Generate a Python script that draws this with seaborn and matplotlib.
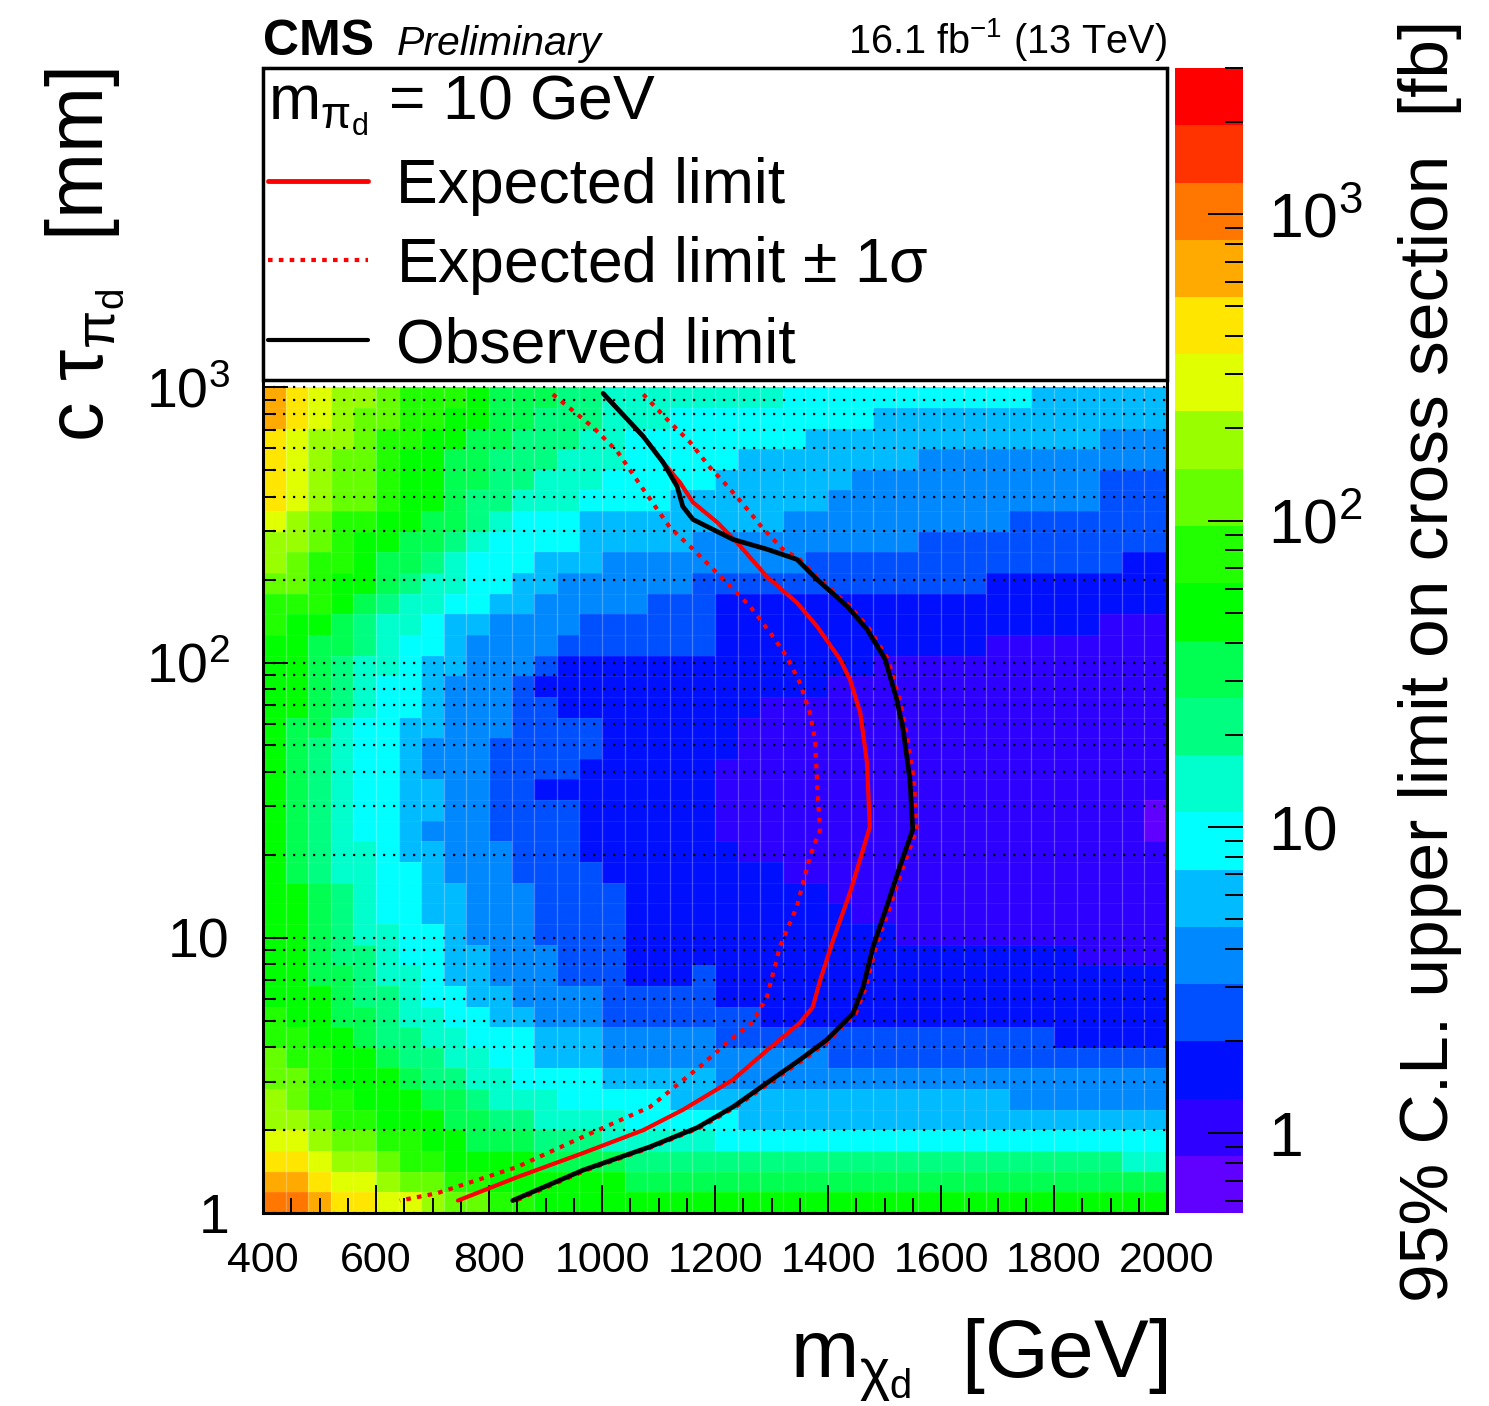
import numpy as np
import matplotlib
matplotlib.use("Agg")
from matplotlib import pyplot as plt
from matplotlib.colors import ListedColormap, LogNorm
from matplotlib.lines import Line2D
import matplotlib.ticker as mticker
import seaborn as sns

# binning of the limit map: 40 mass bins x 40 log(ctau) bins
mass_lo, mass_hi, n_mass = 400, 2000, 40
logct_lo, logct_hi, n_ct = 0.0, 3.0, 40
logct_top = 4.16          # y axis goes on above the map, behind the legend box

# ROOT-like 20 step rainbow palette, lowest level first
palette = ["#6000ff", "#2d00ff", "#0010ff", "#0050ff", "#0088ff", "#00bbff", "#00ffff",
           "#00ffcc", "#00ff80", "#00ff50", "#00ff00", "#22ff00", "#66ff00", "#99ff00",
           "#e0ff00", "#ffe600", "#ffaa00", "#ff7700", "#ff3300", "#ff0000"]
zmin, zmax = 0.55, 3000.0

# palette level of each cell (0-9, A-J), top row = ctau ~ 1000 mm, left = 400 GeV
levels = [
    "GFEDDCBBBA999887777777766666666666555555",
    "GFEDCCBBAA998887776666666665555555555555",
    "FEDDCBBAA9988877666666665555555555555444",
    "FEDCCBAA99888777666665555555544444444444",
    "FEDCCBAA99887776666655555544444444444333",
    "FEDCCBAA98877766665555555444444444444333",
    "EDCBBAA998766655555555544444444443333333",
    "DDCBAA9987666655555444444444433333333333",
    "DCBBA99876665554444444443333333333333322",
    "CCBAA98776655444444333333333333322222222",
    "BBBA987766554444433322222222222222222222",
    "BAA98776554444333333222222222222222221 11".replace(" ", ""),
    "AA99876654444333333322222222222211111111",
    "AA98776554443222222222222221111111111111",
    "AA98766544432222222222222111111111111111",
    "AA98766544433222222222111111111111111111",
    "A997665544433332222221111111111111111111",
    "A987665444333332222221111111111111111111",
    "A987665444333322222211111111111111111111",
    "A987665544332222222211111111111111111111",
    "A987665544333322222211111111111111111110",
    "A987665444333322222211111111111111111110",
    "A987765544433322222221111111111111111111",
    "A987766544433332222222211111111111111111",
    "AA98766554443333222222222111111111111111",
    "AA98766554443333222222222211111111111111",
    "AA98776654443333222222222222111111111111",
    "AA98876655444333222222222222222222221111",
    "AA99877655444333222322222222222222222222",
    "AAA9887665544443333322222222222222222222",
    "BAA9987766554443333333222222222222222222",
    "BBAA988776665554444433333333333333322222",
    "CBBAA98877665554444444444333333333333333",
    "CCBAAA9887766665555544444444444444444444",
    "DCBBAAA998777666665555555555555554444444",
    "DDCBBAAA99887777666665555555555555555555",
    "EEDCCBBAA9998887777766666666666666666666",
    "FFEDDCBBAAAA9999888888888888888888888877",
    "GGFEEDCCBBAAAAAA999999999999999999999999",
    "HHGFFEEDCCBBAAAAAAAAAAAAAAAAAAAAAAAAAAAA",
]

# limit contours: mass [GeV], ctau [mm]
obs_mass = [1002, 1073, 1108, 1133, 1143, 1161, 1204, 1232, 1292, 1345, 1381, 1434, 1469, 1501,
            1522, 1533, 1545, 1550, 1527, 1504, 1480, 1462, 1444, 1398, 1350, 1292, 1232, 1168,
            1085, 966, 842]
obs_ctau = [950, 663, 534, 436, 369, 331, 299, 280, 258, 237, 200, 160, 132, 103, 73, 57, 37.6,
            24.7, 18.1, 13.0, 9.3, 6.6, 5.3, 4.26, 3.6, 2.97, 2.43, 2.04, 1.74, 1.43, 1.11]
exp_mass = [1002, 1073, 1108, 1138, 1161, 1204, 1239, 1292, 1345, 1381, 1421, 1439, 1457, 1469,
            1474, 1462, 1439, 1409, 1386, 1373, 1350, 1292, 1232, 1173, 1143, 1073, 966, 850, 745]
exp_ctau = [950, 663, 534, 451, 382, 323, 273, 205, 165, 135, 103, 86.7, 65.8, 43.3, 25.3, 20.9,
            14.6, 9.8, 7.0, 5.6, 4.9, 3.9, 3.05, 2.58, 2.37, 2.0, 1.65, 1.35, 1.11]
exp_lo_mass = [913, 984, 1027, 1073, 1120, 1161, 1221, 1262, 1297, 1327, 1350, 1368, 1377, 1382,
               1386, 1368, 1345, 1315, 1292, 1267, 1221, 1173, 1085, 966, 850, 708, 642]
exp_lo_ctau = [943, 716, 585, 426, 310, 258, 195, 160, 129, 105, 84.6, 65.8, 52.5, 32.6, 24.7,
               19.7, 13.0, 9.3, 6.1, 4.95, 4.15, 3.4, 2.43, 1.89, 1.47, 1.18, 1.11]
exp_hi_mass = [1073, 1115, 1156, 1191, 1227, 1262, 1283, 1320, 1350, 1386, 1439, 1474, 1506, 1527,
               1538, 1552, 1557, 1533, 1510, 1485, 1467, 1449, 1404, 1356, 1297, 1237, 1173, 1090,
               972, 848]
exp_hi_ctau = [943, 765, 631, 512, 426, 351, 310, 258, 237, 200, 160, 132, 103, 73, 57, 37.6, 24.7,
               18.1, 13.0, 9.3, 6.6, 5.3, 4.26, 3.6, 2.97, 2.43, 2.04, 1.74, 1.43, 1.11]

sns.set_theme(style="white")
plt.rcParams["font.family"] = ["Liberation Sans", "DejaVu Sans"]
plt.rcParams["mathtext.fontset"] = "custom"
plt.rcParams["mathtext.rm"] = "Liberation Sans"
plt.rcParams["mathtext.it"] = "Liberation Sans:italic"
plt.rcParams["mathtext.bf"] = "Liberation Sans:bold"
plt.rcParams["axes.axisbelow"] = False
for key in ["text.color", "axes.labelcolor", "xtick.color", "ytick.color", "axes.edgecolor"]:
    plt.rcParams[key] = "black"

digits = "0123456789ABCDEFGHIJ"
lev = np.array([[digits.index(ch) for ch in row] for row in levels[::-1]])
step = np.log10(zmax / zmin) / len(palette)
xsec = zmin * 10 ** (step * (lev + 0.5))

W, H = 1489, 1406
fig = plt.figure(figsize=(W / 100, H / 100), dpi=100)
pos = [263 / W, 1 - 1213 / H, (1167 - 263) / W, (1213 - 68) / H]
ax = fig.add_axes(pos)
cax = fig.add_axes([1175 / W, 1 - 1213 / H, (1243 - 1175) / W, (1213 - 68) / H])

sns.heatmap(xsec, ax=ax, cbar_ax=cax, cmap=ListedColormap(palette),
            norm=LogNorm(zmin, zmax), xticklabels=False, yticklabels=False)
ax.set_xlim(0, n_mass)
ax.set_ylim(0, n_ct * (logct_top - logct_lo) / (logct_hi - logct_lo))
ax.set_xticks(np.arange(n_mass + 1), minor=True)
ax.set_yticks(np.arange(n_ct + 1), minor=True)
# faint seams between the cells
ax.grid(which="minor", axis="x", color="white", alpha=0.28, lw=0.9)
ax.grid(which="minor", axis="y", color="white", alpha=0.07, lw=0.9)
ax.tick_params(which="both", length=0)
for s in ax.spines.values():
    s.set_visible(False)

# overlay axis in physical units
ax2 = fig.add_axes(pos)
ax2.patch.set_alpha(0)
ax2.set_yscale("log")
ax2.set_xlim(mass_lo, mass_hi)
ax2.set_ylim(10 ** logct_lo, 10 ** logct_top)

grid_y = [k * 10 ** d for d in range(3) for k in range(1, 10)] + [1000]
for gy in grid_y:
    ax2.axhline(gy, color="black", lw=1.6, ls=(0, (1, 3.5)), zorder=1)

dotted = (0, (1.1, 1.5))
sns.lineplot(x=exp_lo_mass, y=exp_lo_ctau, sort=False, estimator=None, ax=ax2,
             color="red", lw=3, ls=dotted, zorder=3)
sns.lineplot(x=exp_hi_mass, y=exp_hi_ctau, sort=False, estimator=None, ax=ax2,
             color="red", lw=3, ls=dotted, zorder=3)
sns.lineplot(x=exp_mass, y=exp_ctau, sort=False, estimator=None, ax=ax2,
             color="red", lw=3, zorder=4)
sns.lineplot(x=obs_mass, y=obs_ctau, sort=False, estimator=None, ax=ax2,
             color="black", lw=3.4, zorder=5)

ax2.set_xticks(np.arange(400, 2001, 200))
ax2.xaxis.set_minor_locator(mticker.MultipleLocator(50))
ax2.yaxis.set_major_locator(mticker.FixedLocator([1, 10, 100, 1000]))
ax2.yaxis.set_major_formatter(mticker.FixedFormatter(["1", "10", "$10^{2}$", "$10^{3}$"]))
ax2.yaxis.set_minor_locator(mticker.LogLocator(subs=np.arange(2, 10)))
ax2.yaxis.set_minor_formatter(mticker.NullFormatter())
ax2.tick_params(axis="x", which="both", bottom=True, top=False, direction="in")
ax2.tick_params(axis="y", which="both", left=True, right=False, direction="in")
ax2.tick_params(axis="x", which="major", length=20, width=1.4, labelsize=31, pad=20)
ax2.tick_params(axis="x", which="minor", length=11, width=1.4)
ax2.tick_params(axis="y", which="major", length=18, width=1.4, labelsize=40, pad=24)
ax2.tick_params(axis="y", which="minor", length=9, width=1.4)
for s in ax2.spines.values():
    s.set_linewidth(2.2)
    s.set_color("black")

handles = [Line2D([], [], color="red", lw=3.5),
           Line2D([], [], color="red", lw=3, ls=dotted),
           Line2D([], [], color="black", lw=3)]
labels = ["Expected limit", r"Expected limit $\pm$ 1$\mathrm{\sigma}$", "Observed limit"]
leg = ax2.legend(handles, labels, title=r"m$_{\mathrm{\pi_{d}}}$ = 10 GeV", loc="upper left",
                 bbox_to_anchor=(0, 0, 1, 1), mode="expand", borderaxespad=0,
                 fontsize=45, title_fontsize=45, alignment="left", fancybox=False,
                 framealpha=1, handlelength=1.6, handletextpad=0.45, borderpad=0.08,
                 labelspacing=0.3)
leg.get_frame().set_edgecolor("black")
leg.get_frame().set_linewidth(2.5)
leg.set_zorder(10)

# colour bar axis
cax.yaxis.set_major_locator(mticker.FixedLocator([1, 10, 100, 1000]))
cax.yaxis.set_major_formatter(mticker.FixedFormatter(["1", "10", "$10^{2}$", "$10^{3}$"]))
cax.yaxis.set_minor_locator(mticker.LogLocator(subs=np.arange(2, 10)))
cax.yaxis.set_minor_formatter(mticker.NullFormatter())
cax.tick_params(which="both", right=True, left=False, direction="in", color="black")
cax.tick_params(which="major", length=25, width=1.4, labelsize=45, pad=18)
cax.tick_params(which="minor", length=13, width=1.4)

fig.text(85 / W, 1 - 68 / H, r"c $\mathrm{\tau}_{\mathrm{\pi_{d}}}$  [mm]", rotation=90,
         ha="center", va="top", fontsize=57)
fig.text(1167 / W, 1 - 1378 / H, r"m$_{\mathrm{\chi_{d}}}$  [GeV]", ha="right", va="baseline",
         fontsize=59)
fig.text(1430 / W, 1 - 20 / H, "95% C.L. upper limit on cross section  [fb]", rotation=90,
         ha="center", va="top", fontsize=50)
fig.text(263 / W, 1 - 55 / H, "CMS", weight="bold", fontsize=36, va="baseline")
fig.text(397 / W, 1 - 55 / H, "Preliminary", style="italic", fontsize=29.5, va="baseline")
fig.text(1167 / W, 1 - 53 / H, "16.1 fb$^{-1}$ (13 TeV)", ha="right", fontsize=28.5,
         va="baseline")

fig.savefig("out.png", dpi=100)
